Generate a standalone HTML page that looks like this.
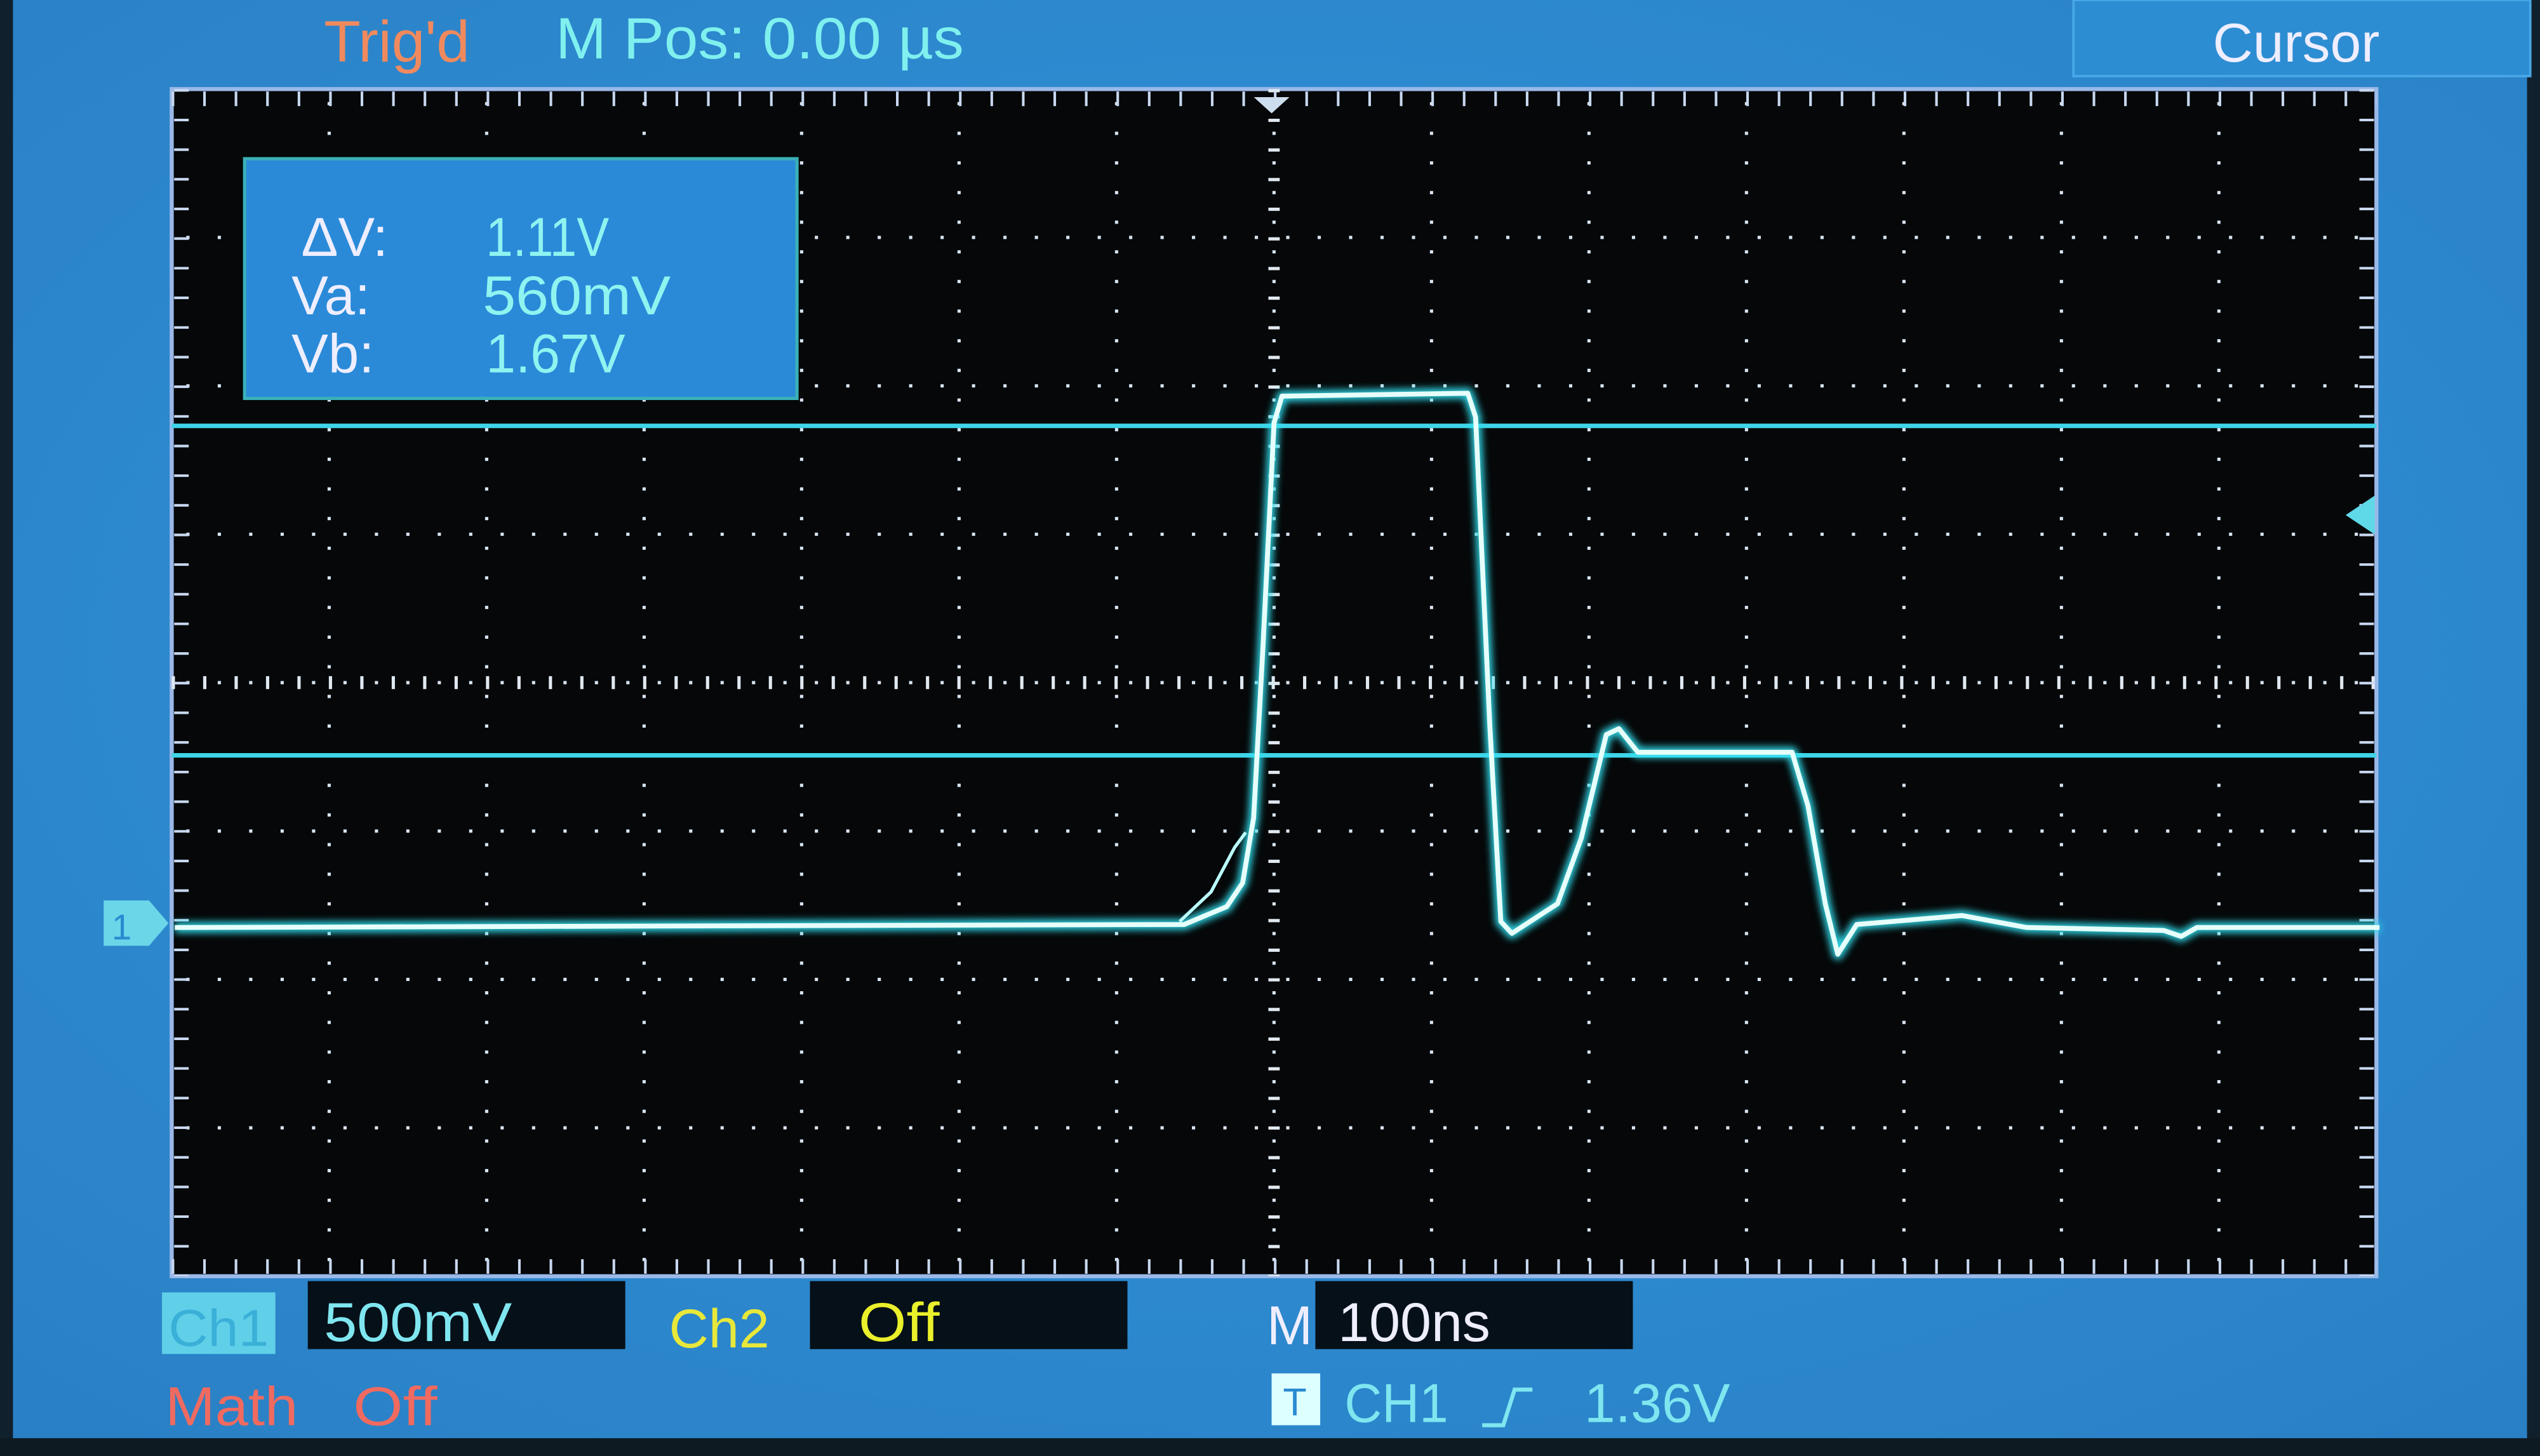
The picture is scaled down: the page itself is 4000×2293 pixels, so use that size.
<!DOCTYPE html>
<html><head><meta charset="utf-8"><style>
html,body{margin:0;padding:0;background:#111;}
svg{display:block}
text{font-family:"Liberation Sans",sans-serif;}
</style></head><body>
<svg id="scope" width="4000" height="2293" viewBox="0 0 1568 899" preserveAspectRatio="none" xmlns="http://www.w3.org/2000/svg">
<defs>
<radialGradient id="bg" cx="50%" cy="45%" r="75%">
<stop offset="0" stop-color="#3196dc"/><stop offset="1" stop-color="#2a7fc4"/>
</radialGradient>
<filter id="glow" x="-5%" y="-5%" width="110%" height="110%"><feGaussianBlur stdDeviation="2.2"/></filter>
</defs>
<rect width="1568" height="899" fill="#0d1418"/>
<rect x="6" y="0" width="1556" height="890" fill="url(#bg)"/>
<rect x="0" y="0" width="8" height="899" fill="#10202c"/>
<rect x="1560" y="0" width="8" height="899" fill="#10202c"/>
<rect x="0" y="888" width="1568" height="11" fill="#0e1a22"/>
<text x="200" y="38" font-size="36" fill="#f08a5e" textLength="90" lengthAdjust="spacingAndGlyphs">Trig'd</text>
<text x="343" y="36" font-size="36" fill="#7ff0ee" textLength="252" lengthAdjust="spacingAndGlyphs">M Pos: 0.00 µs</text>
<rect x="1280" y="0" width="282" height="47" fill="#2d8dd2" stroke="#48a7e6" stroke-width="1.5"/>
<text x="1366" y="38" font-size="34" fill="#eef" textLength="103" lengthAdjust="spacingAndGlyphs">Cursor</text>
<rect x="106" y="55" width="1361" height="733" fill="#050708" stroke="#9ab8e8" stroke-width="2.5"/>
<g id="grid"></g>
<g id="cursors"></g>
<g id="trace"></g>
<rect x="151" y="98" width="341" height="148" fill="#2a8ad8" stroke="#3bb0b8" stroke-width="2"/>
<text x="186" y="158" font-size="34" fill="#eef">ΔV:</text>
<text x="180" y="194" font-size="34" fill="#eef">Va:</text>
<text x="180" y="230" font-size="34" fill="#eef">Vb:</text>
<text x="300" y="158" font-size="34" fill="#8ff4f0" textLength="76" lengthAdjust="spacingAndGlyphs">1.11V</text>
<text x="298" y="194" font-size="34" fill="#8ff4f0" textLength="116" lengthAdjust="spacingAndGlyphs">560mV</text>
<text x="300" y="230" font-size="34" fill="#8ff4f0" textLength="86" lengthAdjust="spacingAndGlyphs">1.67V</text>
<polygon points="774,60 796,60 785,70" fill="#cde"/>
<polygon points="1448,318 1466,306 1466,330" fill="#5fd8e8"/>
<polygon points="64,556 92,556 104,570 92,584 64,584" fill="#6ad6e8"/>
<text x="69" y="580" font-size="22" fill="#2a8ad0">1</text>
<rect x="100" y="798" width="70" height="38" fill="#5fd0e8"/>
<text x="104" y="831" font-size="32" fill="#3ab0d8" textLength="62" lengthAdjust="spacingAndGlyphs">Ch1</text>
<rect x="190" y="791" width="196" height="42" fill="#061018"/>
<text x="200" y="828" font-size="34" fill="#7fe6f0" textLength="116" lengthAdjust="spacingAndGlyphs">500mV</text>
<text x="413" y="832" font-size="34" fill="#e8e83a" textLength="62" lengthAdjust="spacingAndGlyphs">Ch2</text>
<rect x="500" y="791" width="196" height="42" fill="#061018"/>
<text x="530" y="828" font-size="34" fill="#eaf02a" textLength="50" lengthAdjust="spacingAndGlyphs">Off</text>
<text x="782" y="830" font-size="34" fill="#eef">M</text>
<rect x="812" y="791" width="196" height="42" fill="#061018"/>
<text x="826" y="828" font-size="34" fill="#eef" textLength="94" lengthAdjust="spacingAndGlyphs">100ns</text>
<text x="102" y="880" font-size="34" fill="#f06a60" textLength="82" lengthAdjust="spacingAndGlyphs">Math</text>
<text x="218" y="880" font-size="34" fill="#f06a60" textLength="52" lengthAdjust="spacingAndGlyphs">Off</text>
<rect x="785" y="848" width="30" height="32" fill="#dff"/>
<text x="792" y="874" font-size="24" fill="#2a8ad0">T</text>
<text x="830" y="878" font-size="34" fill="#7fe6f0" textLength="64" lengthAdjust="spacingAndGlyphs">CH1</text>
<path d="M915,880 L928,880 L935,858 L946,858" stroke="#7fe6f0" stroke-width="2.5" fill="none"/>
<text x="978" y="878" font-size="34" fill="#7fe6f0" textLength="90" lengthAdjust="spacingAndGlyphs">1.36V</text>
</svg>
<script>
const timeNs = [-698,-57,-30,-20,-13,-7,0,5,123,128,137,144,151,180,195,211,219,231,329,339,350,358,370,437,478,565,576,586,702];
const ch1Volts = [-0.02,-0.01,0.05,0.13,0.35,0.93,1.68,1.77,1.78,1.70,0.66,0.0,-0.04,0.06,0.28,0.63,0.65,0.57,0.57,0.39,0.06,-0.11,-0.01,0.02,-0.02,-0.03,-0.05,-0.02,-0.02];
const cursorVolts = [0.56,1.67];
const ghostTimeNs = [-60,-40,-25,-18];
const ghostVolts = [0.0,0.1,0.25,0.3];

const NS = "http://www.w3.org/2000/svg";
const X0=106,X1=1467,Y0=55,Y1=788,XC=(X0+X1)/2,YC=(Y0+Y1)/2;
const pxPerDivX=(X1-X0)/14, pxPerDivY=(Y1-Y0)/8;
const GND=569;
function xScale(t){return XC + t/100*pxPerDivX;}
function yScale(v){return GND - v/0.5*pxPerDivY;}
function mk(tag,attrs,parent){const e=document.createElementNS(NS,tag);for(const k in attrs)e.setAttribute(k,attrs[k]);parent.appendChild(e);return e;}

const g=document.getElementById('grid');
for(let i=1;i<14;i++){
  const x=X0+i*pxPerDivX;
  const l=mk('line',{x1:x,y1:Y0,x2:x,y2:Y1,stroke:'#d8e4f0','stroke-width':2,'stroke-dasharray':'2 16.3','stroke-dashoffset':-8},g);
  
  
}
for(let j=1;j<8;j++){
  const y=Y0+j*pxPerDivY;
  const l=mk('line',{x1:X0,y1:y,x2:X1,y2:y,stroke:'#d8e4f0','stroke-width':2,'stroke-dasharray':'2 17.4','stroke-dashoffset':-9},g);
  
  
}
let t1=mk('line',{x1:X0,y1:YC,x2:X1,y2:YC,stroke:'#e0e8f0','stroke-width':8,'stroke-dasharray':'2 17.4'},g);


let t2=mk('line',{x1:XC,y1:Y0,x2:XC,y2:Y1,stroke:'#e0e8f0','stroke-width':7,'stroke-dasharray':'2 16.3'},g);


[[X0,Y0+6,X1,Y0+6],[X0,Y1-6,X1,Y1-6]].forEach(c=>{const l=mk('line',{x1:c[0],y1:c[1],x2:c[2],y2:c[3],stroke:'#c8d8f0','stroke-width':9,'stroke-dasharray':'1.6 17.84'},g);

});
[[X0+6,Y0,X0+6,Y1],[X1-6,Y0,X1-6,Y1]].forEach(c=>{const l=mk('line',{x1:c[0],y1:c[1],x2:c[2],y2:c[3],stroke:'#c8d8f0','stroke-width':9,'stroke-dasharray':'1.6 16.7'},g);

});

const cg=document.getElementById('cursors');
cursorVolts.forEach((v,i)=>{
  const l=mk('line',{x1:X0,y1:yScale(v),x2:X1,y2:yScale(v),stroke:'#3fd4e8','stroke-width':2.8},cg);
  
  
});

const tg=document.getElementById('trace');
function pts(ts,vs){return ts.map((t,i)=>xScale(t).toFixed(1)+','+yScale(vs[i]).toFixed(1)).join(' ');}
const glow=mk('polyline',{points:pts(timeNs,ch1Volts),fill:'none',stroke:'#30e0f0','stroke-width':7,'stroke-linejoin':'round',filter:'url(#glow)',opacity:.9},tg);


const gh=mk('polyline',{points:pts(ghostTimeNs,ghostVolts),fill:'none',stroke:'#bff','stroke-width':2},tg);


const tr=mk('polyline',{points:pts(timeNs,ch1Volts),fill:'none',stroke:'#e6fffa','stroke-width':3,'stroke-linejoin':'round'},tg);


</script>
</body></html>
